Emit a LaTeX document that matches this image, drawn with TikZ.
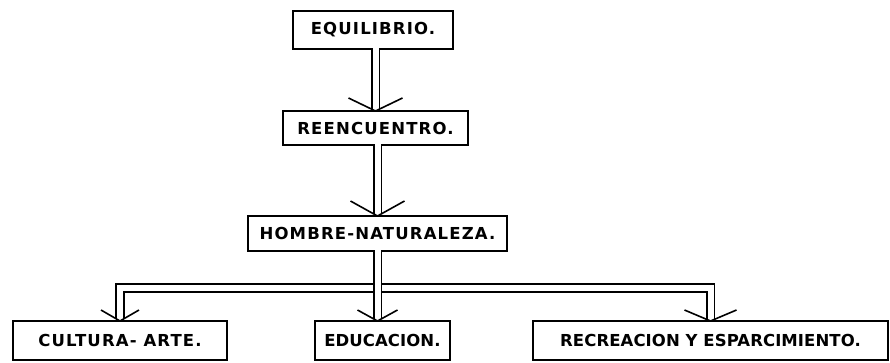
\documentclass[tikz,border=0pt]{standalone}
\usepackage{fontspec}
\newfontfamily\boxfont{DejaVu Sans}[LetterSpace=7]
\newfontfamily\boxfontn{DejaVu Sans}[LetterSpace=0.5]
\usepackage{tikz}
\usetikzlibrary{positioning}
\usetikzlibrary{calc}

\begin{document}
\begin{tikzpicture}[align=center,node distance=60pt,every node/.style={inner sep=0,outer sep=0,font=\boxfont\bfseries\fontsize{16.5}{18}\selectfont},
    box/.style={draw,line width=1.6pt,minimum height=37pt},
    narrow/.style={font=\boxfontn\bfseries\fontsize{16.5}{18}\selectfont},
    pipe/.style={draw,line width=1.6pt,double=white,double distance=6pt},
    head/.style={line width=1.6pt}]
    \useasboundingbox (0,0) rectangle (890pt,-362pt);
    \node[box,minimum width=160pt,minimum height=38pt] (B1) at (373pt,-30pt) {EQUILIBRIO.};
    \node[box,minimum width=185pt,minimum height=34pt] (B2) [below=62pt of B1,xshift=2.5pt] {REENCUENTRO.};
    \node[box,minimum width=259pt,minimum height=35pt] (B3) [below=71pt of B2,xshift=2pt] {HOMBRE-NATURALEZA.};
    \node[box,narrow,minimum width=135pt,minimum height=39pt] (B5) [below=70pt of B3,xshift=5pt] {EDUCACION.};
    \node[box,minimum width=214pt,minimum height=39pt] (B4) [left=88pt of B5] {CULTURA- ARTE.};
    \node[box,narrow,minimum width=355pt,minimum height=39pt] (B6) [right=83pt of B5] {RECREACION Y ESPARCIMIENTO.};
    \coordinate (J) at ([yshift=-37pt]B3.south);
    \coordinate (T) at (B3.south |- B5.north);
    % hollow connectors
    \path[pipe] ($(B1.south -| B2.north)+(0,1pt)$) -- ($(B2.north)+(0,2pt)$);
    \path[pipe] ($(B2.south -| B3.north)+(0,1pt)$) -- ($(B3.north)+(0,2pt)$);
    \path[pipe] ($(B4.north)+(0,2pt)$) |- (J) -| ($(B6.north)+(0,2pt)$);
    \path[pipe] ($(B3.south)+(0,1pt)$) -- ($(T)+(0,2pt)$);
    % heads
    \draw[head] ([shift={(-27pt,13pt)}]B2.north) -- (B2.north) -- ([shift={(27pt,13pt)}]B2.north);
    \draw[head] ([shift={(-27pt,15pt)}]B3.north) -- (B3.north) -- ([shift={(27pt,15pt)}]B3.north);
    \draw[head] ([shift={(-19pt,11pt)}]B4.north) -- (B4.north) -- ([shift={(19pt,11pt)}]B4.north);
    \draw[head] ([shift={(-20pt,11pt)}]T) -- (T) -- ([shift={(20pt,11pt)}]T);
    \draw[head] ([shift={(-26pt,11pt)}]B6.north) -- (B6.north) -- ([shift={(26pt,11pt)}]B6.north);
\end{tikzpicture}
\end{document}
